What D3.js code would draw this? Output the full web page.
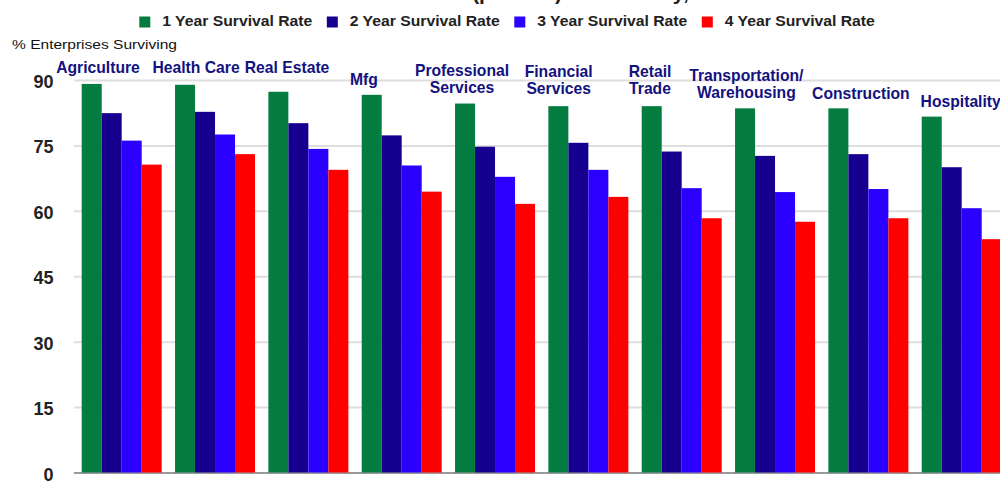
<!DOCTYPE html>
<html>
<head>
<meta charset="utf-8">
<script src="https://cdn.jsdelivr.net/npm/d3@7"></script>
<style>
  body { margin: 0; background: #fff; }
  svg { display: block; font-family: "Liberation Sans", Arial, sans-serif; }
</style>
</head>
<body>
<svg width="1000" height="483"></svg>
<script>
// industries (each entry = label lines)
var industries = [
  ["Agriculture"], ["Health Care"], ["Real Estate"], ["Mfg"],
  ["Professional", "Services"], ["Financial", "Services"], ["Retail", "Trade"],
  ["Transportation/", "Warehousing"], ["Construction"], ["Hospitality"]
];
var seriesNames = ["1 Year Survival Rate", "2 Year Survival Rate", "3 Year Survival Rate", "4 Year Survival Rate"];
var oneYear   = [89.1, 88.9, 87.3, 86.6, 84.6, 84.0, 84.0, 83.5, 83.5, 81.6];
var twoYear   = [82.4, 82.7, 80.1, 77.3, 74.7, 75.6, 73.6, 72.6, 73.0, 70.0];
var threeYear = [76.1, 77.5, 74.2, 70.4, 67.8, 69.4, 65.2, 64.3, 65.0, 60.6];
var fourYear  = [70.6, 73.0, 69.4, 64.4, 61.6, 63.2, 58.3, 57.5, 58.3, 53.5];
var yTicks = [0, 15, 30, 45, 60, 75, 90];
var titleText = "Survival Rates of Establishments (percent) for Industry, Selected Industries";
var yTitle = "% Enterprises Surviving";

// label placement: shift from group centre, lift above the 1 year bar
var labelDx   = [-23.7, -19, -21.3, -37.7, -33, -29.7, -31.7, -28.7, -7.5, -1];
var labelLift = [10.7, 11.4, 18.4, 10, 10.2, 11.7, 12, 10.6, 9.6, 10];

var colors = ["#047c3f", "#150090", "#2c00ff", "#ff0000"];
var series = [oneYear, twoYear, threeYear, fourYear];

function render() {
  var svg = d3.select("svg"),
      width = +svg.attr("width"),
      left = 74;

  var y = d3.scaleLinear().domain([0, 90]).range([472.5, 80]);

  var x0 = d3.scaleBand()
      .domain(d3.range(industries.length))
      .range([left, 1009.4])
      .paddingInner(0.143)
      .paddingOuter(0.0825);

  var x1 = d3.scaleBand()
      .domain(d3.range(seriesNames.length))
      .range([0, x0.bandwidth()]);

  // title (mostly above the visible area)
  svg.append("text")
      .attr("x", 511)
      .attr("y", -0.5)
      .attr("text-anchor", "middle")
      .style("font-size", "21px")
      .style("font-weight", "bold")
      .style("fill", "#222")
      .text(titleText);

  // legend
  var legend = svg.append("g").selectAll("g")
      .data(seriesNames)
      .enter().append("g")
      .attr("transform", function(d, i) { return "translate(" + (139.3 + i * 187.5) + ",0)"; });

  legend.append("rect")
      .attr("y", 16.5)
      .attr("width", 11)
      .attr("height", 11)
      .style("fill", function(d, i) { return colors[i]; });

  legend.append("text")
      .attr("x", 23)
      .attr("y", 26)
      .attr("textLength", 150)
      .attr("lengthAdjust", "spacingAndGlyphs")
      .style("font-size", "14px")
      .style("font-weight", "bold")
      .style("fill", "#222")
      .text(function(d) { return d; });

  svg.append("text")
      .attr("x", 12)
      .attr("y", 48.5)
      .attr("textLength", 165)
      .attr("lengthAdjust", "spacingAndGlyphs")
      .style("font-size", "13px")
      .style("fill", "#111")
      .text(yTitle);

  // grid
  var grid = svg.append("g")
      .attr("transform", "translate(" + left + ",0)")
      .call(d3.axisLeft(y).tickValues(yTicks).tickSize(-(width - left)).tickFormat(""));
  grid.select(".domain").remove();
  grid.selectAll("line")
      .style("stroke", function(d) { return d === 0 ? "#9a9a9a" : "#dedede"; })
      .style("stroke-width", 2);

  // tick labels
  var axis = svg.append("g")
      .attr("transform", "translate(" + left + ",0)")
      .call(d3.axisLeft(y).tickValues(yTicks).tickSize(0));
  axis.select(".domain").remove();
  axis.selectAll("text")
      .attr("x", -20.5)
      .attr("dy", 7.5)
      .style("font-family", "'Liberation Sans', Arial, sans-serif")
      .style("font-size", "18px")
      .style("font-weight", "bold")
      .style("fill", "#222");

  // bars
  var groups = svg.append("g").selectAll("g")
      .data(industries)
      .enter().append("g")
      .attr("transform", function(d, i) { return "translate(" + x0(i) + ",0)"; });

  groups.selectAll("rect")
      .data(function(d, i) { return series.map(function(s, k) { return {k: k, v: s[i]}; }); })
      .enter().append("rect")
      .attr("x", function(d) { return x1(d.k); })
      .attr("y", function(d) { return y(d.v); })
      .attr("width", x1.bandwidth())
      .attr("height", function(d) { return y(0) - y(d.v); })
      .style("fill", function(d) { return colors[d.k]; });

  // category labels
  var labels = svg.append("g").selectAll("text")
      .data(industries)
      .enter().append("text")
      .attr("text-anchor", "middle")
      .style("font-size", "15.7px")
      .style("font-weight", "bold")
      .style("fill", "#13127f");

  labels.each(function(lines, i) {
    var cx = x0(i) + x0.bandwidth() / 2 + labelDx[i];
    var base = y(oneYear[i]) - labelLift[i];
    d3.select(this).selectAll("tspan")
      .data(lines)
      .enter().append("tspan")
      .attr("x", cx)
      .attr("y", function(d, j) { return base - (lines.length - 1 - j) * 17; })
      .text(function(d) { return d; });
  });
}

render();
</script>
</body>
</html>
